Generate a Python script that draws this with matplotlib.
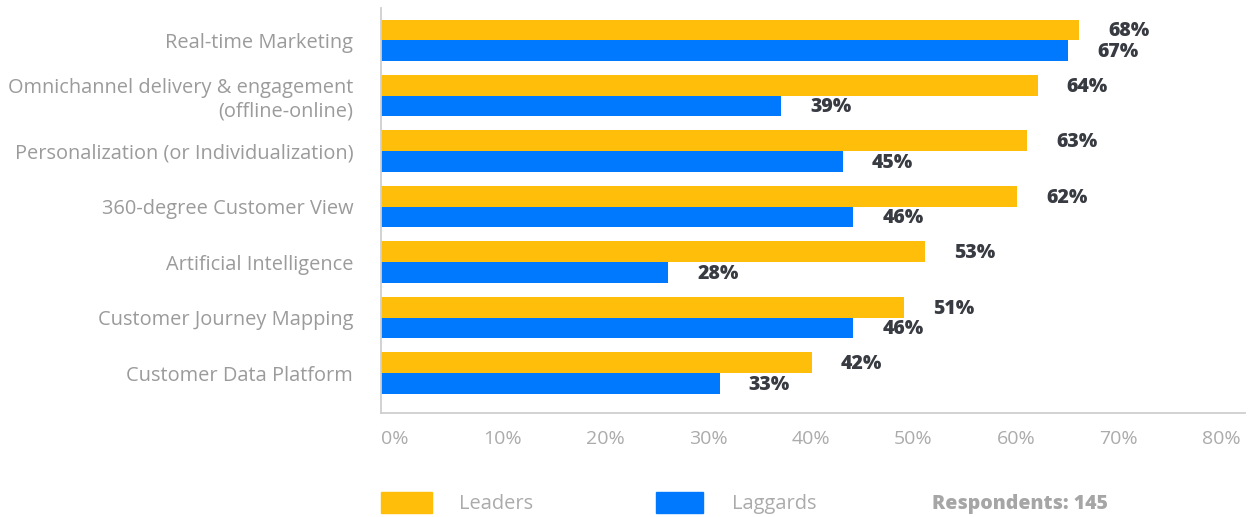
import matplotlib
matplotlib.use("Agg")
import matplotlib.pyplot as plt
from matplotlib.patches import Rectangle
import numpy as np

categories = [
    "Real-time Marketing",
    "Omnichannel delivery & engagement\n(offline-online)",
    "Personalization (or Individualization)",
    "360-degree Customer View",
    "Artificial Intelligence",
    "Customer Journey Mapping",
    "Customer Data Platform",
]
leaders = [68, 64, 63, 62, 53, 51, 42]
laggards = [67, 39, 45, 46, 28, 46, 33]
xticks = [0, 10, 20, 30, 40, 50, 60, 70, 80]
series_names = ["Leaders", "Laggards"]
respondents_note = "Respondents: 145"

YELLOW = "#FEBE0A"
BLUE = "#0079FF"
LABEL_GRAY = "#9b9b9b"
TICK_GRAY = "#ababab"
VALUE_DARK = "#383b42"
SPINE_GRAY = "#cfcfcf"

plt.rcParams["font.family"] = ["Open Sans", "DejaVu Sans"]

fig = plt.figure(figsize=(12.53, 5.17), dpi=100)
ax = fig.add_axes([0.304, 0.2012, 0.6896, 0.7833])

y = np.arange(len(categories))
h = 0.37
ax.barh(y - h / 2, leaders, height=h, color=YELLOW)
ax.barh(y + h / 2, laggards, height=h, color=BLUE)

for yi, v in zip(y - h / 2, leaders):
    ax.annotate(f"{v}%", (v, yi), xytext=(21, -1), textcoords="offset points",
                ha="left", va="center", fontsize=14, fontweight=800,
                color=VALUE_DARK)
for yi, v in zip(y + h / 2, laggards):
    ax.annotate(f"{v}%", (v, yi), xytext=(21, -1), textcoords="offset points",
                ha="left", va="center", fontsize=14, fontweight=800,
                color=VALUE_DARK)

ax.set_xlim(0, 84.2)
ax.set_ylim(6.72, -0.577)
ax.set_yticks(y)
ax.set_yticklabels(categories, fontsize=14.4, color=LABEL_GRAY,
                   linespacing=1.2)
ax.set_xticks(xticks)
ax.set_xticklabels([f"{t}%" for t in xticks], fontsize=14, color=TICK_GRAY,
                   ha="left")
ax.tick_params(axis="y", length=0, pad=20)
ax.tick_params(axis="x", length=0, pad=12)

for s in ["top", "right"]:
    ax.spines[s].set_visible(False)
for s in ["left", "bottom"]:
    ax.spines[s].set_color(SPINE_GRAY)
    ax.spines[s].set_linewidth(1.3)

# legend row
W, H = 1253.0, 517.0
fig.patches.append(Rectangle((381 / W, 1 - 513 / H), 51 / W, 21 / H,
                             transform=fig.transFigure, color=YELLOW))
fig.patches.append(Rectangle((656 / W, 1 - 513 / H), 47 / W, 21 / H,
                             transform=fig.transFigure, color=BLUE))
fig.text(459 / W, 1 - 504 / H, series_names[0], fontsize=14.4, color=TICK_GRAY,
         ha="left", va="center")
fig.text(732 / W, 1 - 504 / H, series_names[1], fontsize=14.4, color=TICK_GRAY,
         ha="left", va="center")
fig.text(932 / W, 1 - 504 / H, respondents_note, fontsize=14,
         fontweight=800, color="#a6a6a6", ha="left", va="center")

fig.savefig("out.png", dpi=100, facecolor="white")
